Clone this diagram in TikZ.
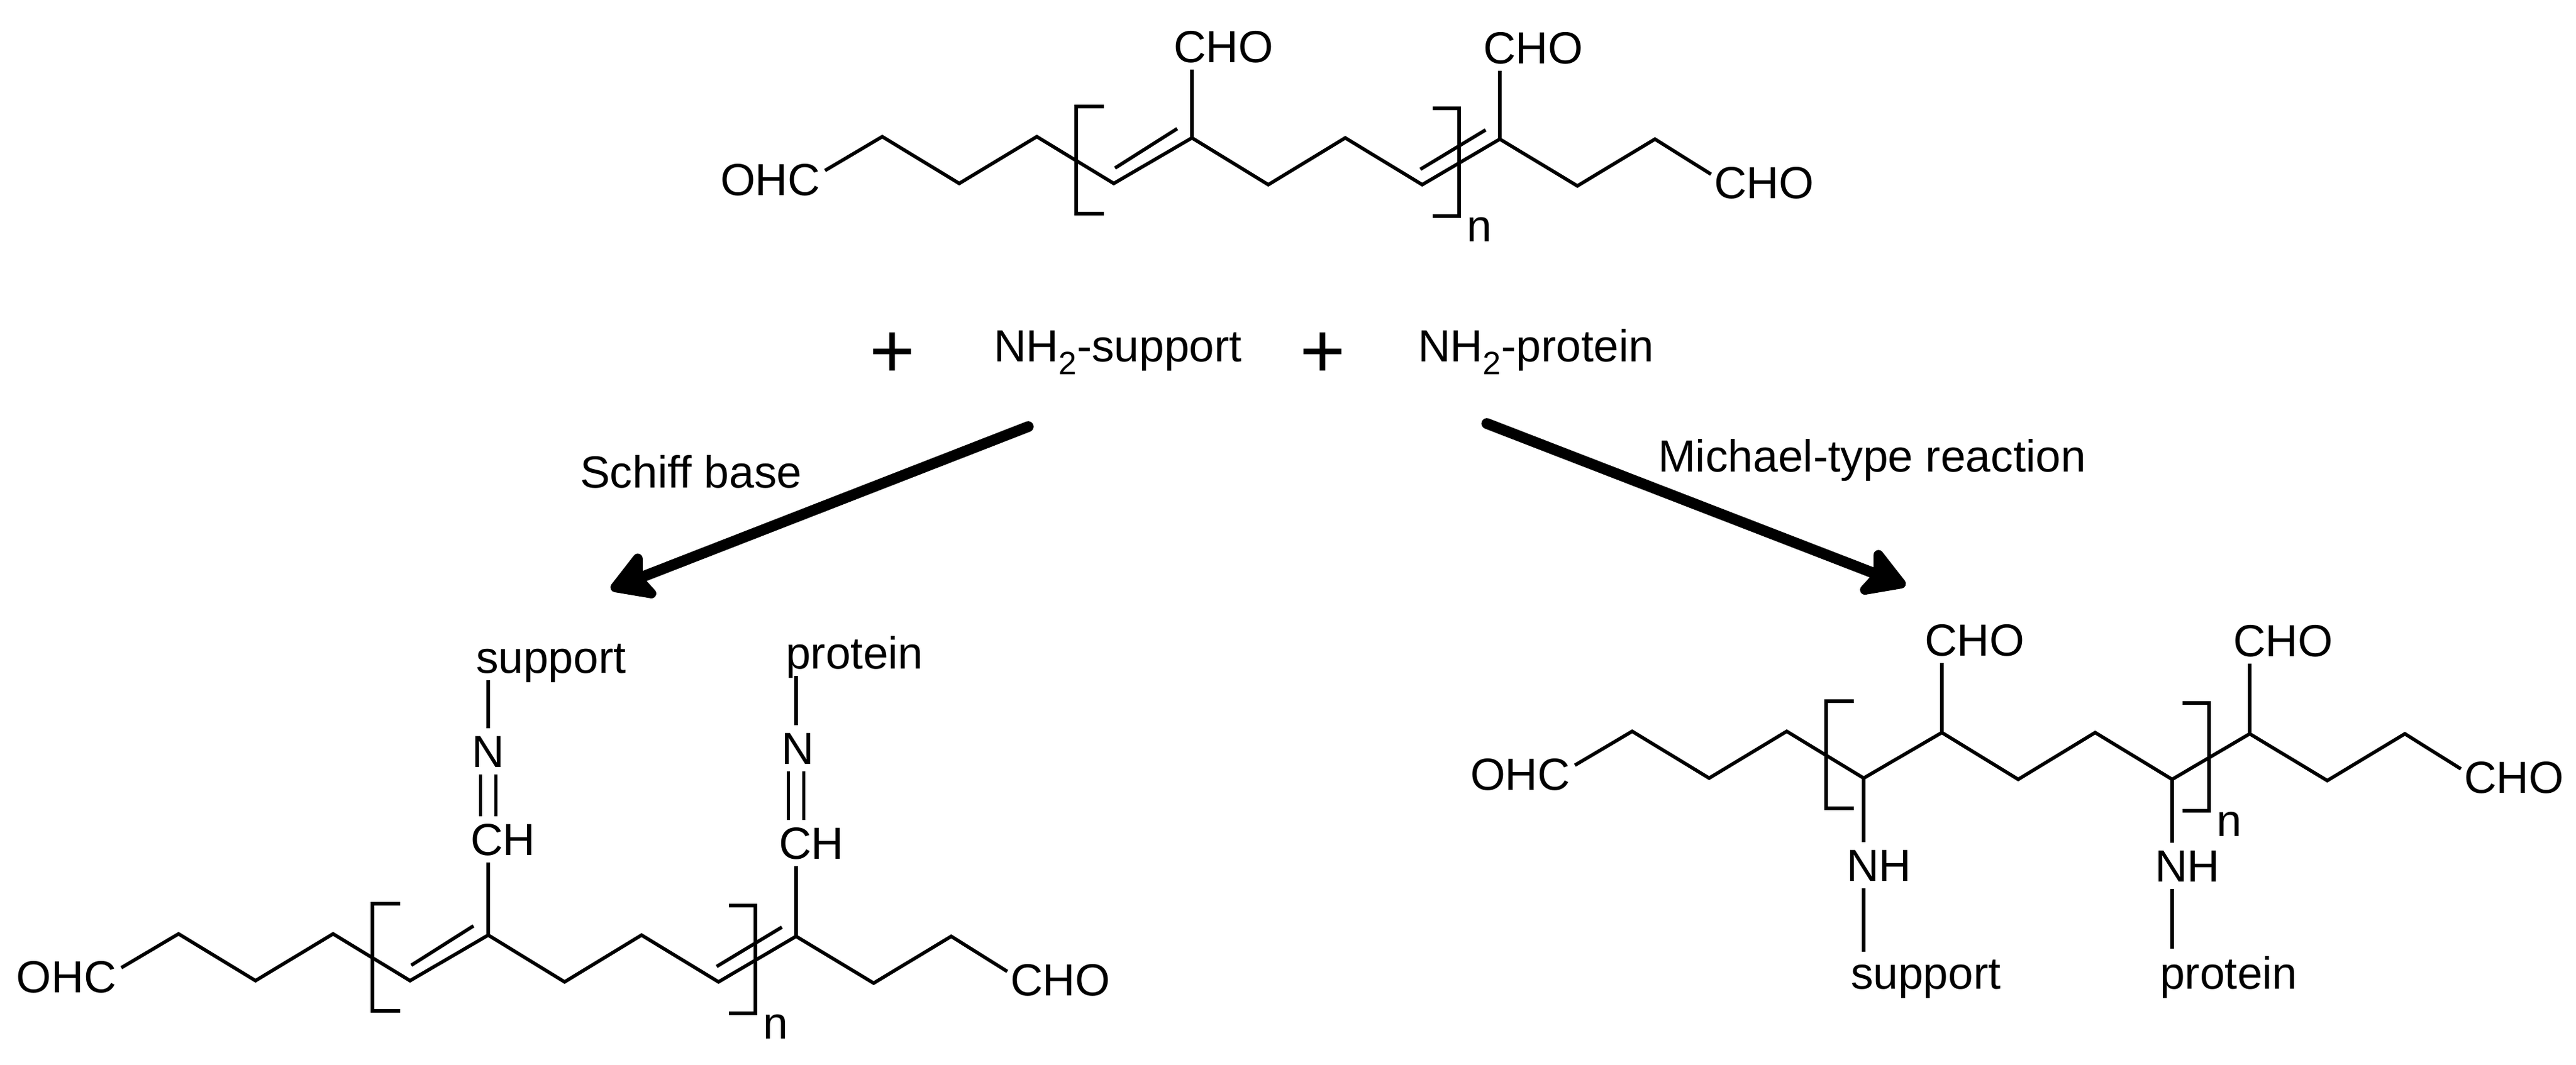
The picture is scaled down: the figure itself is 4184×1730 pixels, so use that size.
\documentclass[tikz,border=0pt]{standalone}
\usepackage{fontspec}
\setmainfont{Liberation Sans}
\usetikzlibrary{arrows.meta}

\newcommand{\polychain}{
    \coordinate (c0) at (1340,277);
    \coordinate (c1) at (1433,222);
    \coordinate (c2) at (1558,298);
    \coordinate (c3) at (1684,222);
    \coordinate (c4) at (1809,298);
    \coordinate (c5) at (1936,224);
    \coordinate (c6) at (2060,300);
    \coordinate (c7) at (2185,224);
    \coordinate (c8) at (2310,300);
    \coordinate (c9) at (2436,226);
    \coordinate (c10) at (2562,302);
    \coordinate (c11) at (2688,226);
    \coordinate (c12) at (2779,283);
    \draw[bond] (c0) -- (c1) -- (c2) -- (c3) -- (c4) -- (c5) -- (c6) -- (c7) -- (c8) -- (c9) -- (c10) -- (c11) -- (c12);
    \draw[bond] (1793,173) -- (1748,173) -- (1748,347) -- (1793,347);
    \draw[bond] (2327,176) -- (2370,176) -- (2370,351) -- (2327,351);
    \node[atom] (ohc) at (1170,317) {OHC};
    \node[atom] (cho) at (2784,322) {CHO};
    \node[atom] (rep) at (2382,392) {n};
}
\newcommand{\innerbonds}{
    \coordinate (d1) at (1811,273);
    \coordinate (d2) at (1912,209);
    \coordinate (d3) at (2307,275);
    \coordinate (d4) at (2413,211);
    \draw[bond] (d1) -- (d2);
    \draw[bond] (d3) -- (d4);
}

\begin{document}
\begin{tikzpicture}[x=0.01cm,y=-0.01cm,
        bond/.style={line width=1.6pt,line join=miter},
        dblbond/.style={line width=1.6pt,double,double distance=5.5pt},
        atom/.style={inner sep=0pt,outer xsep=0pt,outer ysep=3.5pt,text depth=0pt,anchor=base west,font=\fontsize{20.8pt}{24pt}\selectfont},
        plussign/.style={inner sep=0pt,anchor=base,font=\fontsize{36pt}{40pt}\selectfont},
        reactarrow/.style={line width=5pt,line cap=round,-{Stealth[length=23pt,width=27pt,inset=5pt,round]}}]
    \useasboundingbox (0,0) rectangle (4184,1730);

    \begin{scope}[name prefix=top-]
        \polychain
        \innerbonds
    \end{scope}
    \node[atom] (topcho1) at (1906,101) {CHO};
    \node[atom] (topcho2) at (2409,103) {CHO};
    \draw[bond] (top-c5) -- (top-c5 |- topcho1.south);
    \draw[bond] (top-c9) -- (top-c9 |- topcho2.south);

    \node[plussign] (plus1) at (1449,613) {+};
    \node[atom] (nhsupport) at (1614,587) {NH\raisebox{-6pt}{\fontsize{15pt}{15pt}\selectfont 2}-support};
    \node[plussign] (plus2) at (2148,613) {+};
    \node[atom] (nhprotein) at (2303,587) {NH\raisebox{-6pt}{\fontsize{15pt}{15pt}\selectfont 2}-protein};

    \coordinate (schiffstart) at (1670,693);
    \coordinate (schifftip) at (992,957);
    \coordinate (michaelstart) at (2415,688);
    \coordinate (michaeltip) at (3095,951);
    \draw[reactarrow] (schiffstart) -- (schifftip);
    \draw[reactarrow] (michaelstart) -- (michaeltip);
    \node[atom] (schifflabel) at (942,792) {Schiff base};
    \node[atom] (michaellabel) at (2693,766) {Michael-type reaction};

    \begin{scope}[shift={(-1143,1295)},name prefix=sb-]
        \polychain
        \innerbonds
    \end{scope}
    \node[atom] (sbch1) at (764,1389) {CH};
    \node[atom] (sbn1) at (766,1246) {N};
    \node[atom] (sbsupport) at (773,1093) {support};
    \node[atom] (sbch2) at (1265,1395) {CH};
    \node[atom] (sbn2) at (1269,1241) {N};
    \node[atom] (sbprotein) at (1276,1086) {protein};
    \draw[bond] (sb-c5) -- (sb-c5 |- sbch1.south);
    \draw[dblbond] (sb-c5 |- sbch1.north) -- (sb-c5 |- sbn1.south);
    \draw[bond] (sb-c5 |- sbn1.north) -- (sb-c5 |- sbsupport.south);
    \draw[bond] (sb-c9) -- (sb-c9 |- sbch2.south);
    \draw[dblbond] (sb-c9 |- sbch2.north) -- (sb-c9 |- sbn2.south);
    \draw[bond] (sb-c9 |- sbn2.north) -- (sb-c9 |- sbprotein.south);

    \begin{scope}[shift={(1218,966)},name prefix=ma-]
        \polychain
    \end{scope}
    \node[atom] (macho1) at (3126,1065) {CHO};
    \node[atom] (macho2) at (3627,1066) {CHO};
    \node[atom] (manh1) at (2999,1431) {NH};
    \node[atom] (manh2) at (3500,1432) {NH};
    \node[atom] (masupport) at (3006,1606) {support};
    \node[atom] (maprotein) at (3508,1606) {protein};
    \draw[bond] (ma-c5) -- (ma-c5 |- macho1.south);
    \draw[bond] (ma-c9) -- (ma-c9 |- macho2.south);
    \draw[bond] (ma-c4) -- (ma-c4 |- manh1.north);
    \draw[bond] (ma-c4 |- manh1.south) -- (ma-c4 |- masupport.north);
    \draw[bond] (ma-c8) -- (ma-c8 |- manh2.north);
    \draw[bond] (ma-c8 |- manh2.south) -- (ma-c8 |- maprotein.north);
\end{tikzpicture}
\end{document}
